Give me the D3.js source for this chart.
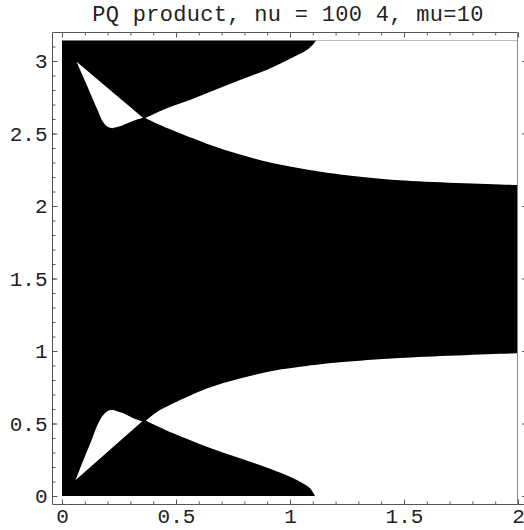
<!DOCTYPE html>
<html><head><meta charset="utf-8">
<script src="https://cdn.jsdelivr.net/npm/d3@7"></script>
<style>body{margin:0;background:#fff}svg{display:block}</style>
</head><body>
<script>
const titleText = "PQ product, nu = 100 4, mu=10";
const xTicks = [0, 0.5, 1, 1.5, 2];
const xTickLabels = ["0", "0.5", "1", "1.5", "2"];
const yTicks = [0, 0.5, 1, 1.5, 2, 2.5, 3];
const yTickLabels = ["0", "0.5", "1", "1.5", "2", "2.5", "3"];
const xDomain = [0, 2];
const yDomain = [0, Math.PI];

// Upper small white teardrop
const upperTearLeft = [[0.064,2.995],[0.110,2.83],[0.155,2.665],[0.178,2.585],[0.198,2.548],[0.220,2.536]];
const upperTearRight = [[0.220,2.536],[0.254,2.550],[0.298,2.578],[0.335,2.600],[0.356,2.607]];
const upperTearTop = [[0.356,2.607],[0.064,2.995]];
// Upper big white region
const upperBigTop = [[0.366,2.607],[0.45,2.668],[0.561,2.731],[0.67,2.80],[0.781,2.869],[0.90,2.94],[1.0,3.015],[1.073,3.076],[1.100,3.112],[1.114,3.1416]];
const upperBigBottom = [[0.366,2.607],[0.42,2.565],[0.488,2.52],[0.635,2.43],[0.781,2.355],[0.927,2.295],[1.073,2.252],[1.22,2.218],[1.482,2.178],[2.0,2.145]];
// Lower big white region
const lowerBigTop = [[0.368,0.519],[0.42,0.582],[0.488,0.639],[0.635,0.742],[0.781,0.811],[0.927,0.864],[1.073,0.897],[1.219,0.922],[1.482,0.952],[2.0,0.985]];
const lowerBigBottom = [[0.368,0.519],[0.488,0.432],[0.635,0.340],[0.781,0.260],[0.927,0.179],[1.044,0.099],[1.088,0.053],[1.11,0]];
// Lower small white teardrop
const lowerTearLeft = [[0.060,0.110],[0.094,0.248],[0.130,0.386],[0.159,0.501],[0.181,0.559],[0.203,0.588],[0.225,0.593]];
const lowerTearRight = [[0.225,0.593],[0.269,0.570],[0.313,0.536],[0.352,0.515]];
const lowerTearBottom = [[0.352,0.515],[0.060,0.110]];

const W = 524, H = 530;
const svg = d3.select("body").append("svg").attr("width", W).attr("height", H);
const x = d3.scaleLinear().domain([0, 2]).range([62, 518]);
const y = d3.scaleLinear().domain([0, 3]).range([496, 61]);
const frame = {l: 52.5, t: 32.5, r: 517.5, b: 504.5};
const FONT = "'Liberation Mono', 'Courier New', monospace";

// black region
svg.append("rect")
  .attr("x", x(xDomain[0])).attr("y", y(yDomain[1]))
  .attr("width", x(xDomain[1]) - x(xDomain[0]))
  .attr("height", y(yDomain[0]) - y(yDomain[1]))
  .attr("fill", "#000");

const curve = d3.line().x(d => x(d[0])).y(d => y(d[1])).curve(d3.curveCatmullRom.alpha(0.5));
const straight = d3.line().x(d => x(d[0])).y(d => y(d[1]));
function joinPath(segs) {
  return segs.map((s, i) => {
    const p = (s.straight ? straight : curve)(s.pts);
    return i === 0 ? p : p.replace(/^M/, "L");
  }).join("") + "Z";
}
const whiteShapes = [
  [{pts: upperTearLeft}, {pts: upperTearRight}, {pts: upperTearTop, straight: true}],
  [{pts: upperBigTop}, {pts: [[upperBigTop[upperBigTop.length-1][0], yDomain[1]], [xDomain[1], yDomain[1]], upperBigBottom[upperBigBottom.length-1]], straight: true}, {pts: upperBigBottom.slice().reverse()}],
  [{pts: lowerBigBottom}, {pts: [[lowerBigBottom[lowerBigBottom.length-1][0], yDomain[0]], [xDomain[1], yDomain[0]], lowerBigTop[lowerBigTop.length-1]], straight: true}, {pts: lowerBigTop.slice().reverse()}],
  [{pts: lowerTearLeft}, {pts: lowerTearRight}, {pts: lowerTearBottom, straight: true}]
];
svg.append("g").selectAll("path").data(whiteShapes).join("path")
  .attr("d", joinPath).attr("fill", "#fff");

// frame
const fc = "#555";
const fr = svg.append("g").attr("stroke", fc).attr("stroke-width", 1).attr("fill", "none");
fr.append("line").attr("x1", frame.l).attr("x2", frame.l).attr("y1", frame.t).attr("y2", frame.b);
fr.append("line").attr("x1", frame.l).attr("x2", frame.r).attr("y1", frame.t).attr("y2", frame.t);
fr.append("line").attr("x1", frame.l).attr("x2", W).attr("y1", frame.b).attr("y2", frame.b);
fr.append("line").attr("x1", frame.r).attr("x2", frame.r).attr("y1", frame.t).attr("y2", frame.b).attr("stroke", "#888");

const minorX = d3.range(0, 20.5, 1).map(v => v / 10);
const minorY = d3.range(0, 31.5, 1).map(v => v / 10);

function styleAxis(g) {
  g.select(".domain").remove();
  g.selectAll("line").attr("stroke", fc);
  g.selectAll("text").attr("font-family", FONT).attr("font-size", 21).attr("fill", "#222");
}
// bottom
svg.append("g").attr("transform", `translate(0,${frame.b})`)
  .call(d3.axisBottom(x).tickValues(minorX).tickSize(-3).tickFormat("")).call(styleAxis);
svg.append("g").attr("transform", `translate(0,${frame.b})`)
  .call(d3.axisBottom(x).tickValues(xTicks).tickSize(-5).tickPadding(4).tickFormat((d, i) => xTickLabels[i])).call(styleAxis);
// top
svg.append("g").attr("transform", `translate(0,${frame.t})`)
  .call(d3.axisTop(x).tickValues(minorX).tickSize(-3).tickFormat("")).call(styleAxis);
svg.append("g").attr("transform", `translate(0,${frame.t})`)
  .call(d3.axisTop(x).tickValues(xTicks).tickSize(-5).tickFormat("")).call(styleAxis);
// left
svg.append("g").attr("transform", `translate(${frame.l},0)`)
  .call(d3.axisLeft(y).tickValues(minorY).tickSize(-3).tickFormat("")).call(styleAxis);
svg.append("g").attr("transform", `translate(${frame.l},0)`)
  .call(d3.axisLeft(y).tickValues(yTicks).tickSize(-5).tickPadding(5).tickFormat((d, i) => yTickLabels[i])).call(styleAxis);
// right (partially outside)
svg.append("g").attr("transform", `translate(528,0)`)
  .call(d3.axisRight(y).tickValues(yTicks).tickSize(-6).tickFormat("")).call(styleAxis);

svg.append("text").attr("x", 288).attr("y", 21).attr("text-anchor", "middle")
  .attr("font-family", FONT).attr("font-size", 22).attr("letter-spacing", 0.3)
  .attr("fill", "#222").text(titleText);
</script>
</body></html>
